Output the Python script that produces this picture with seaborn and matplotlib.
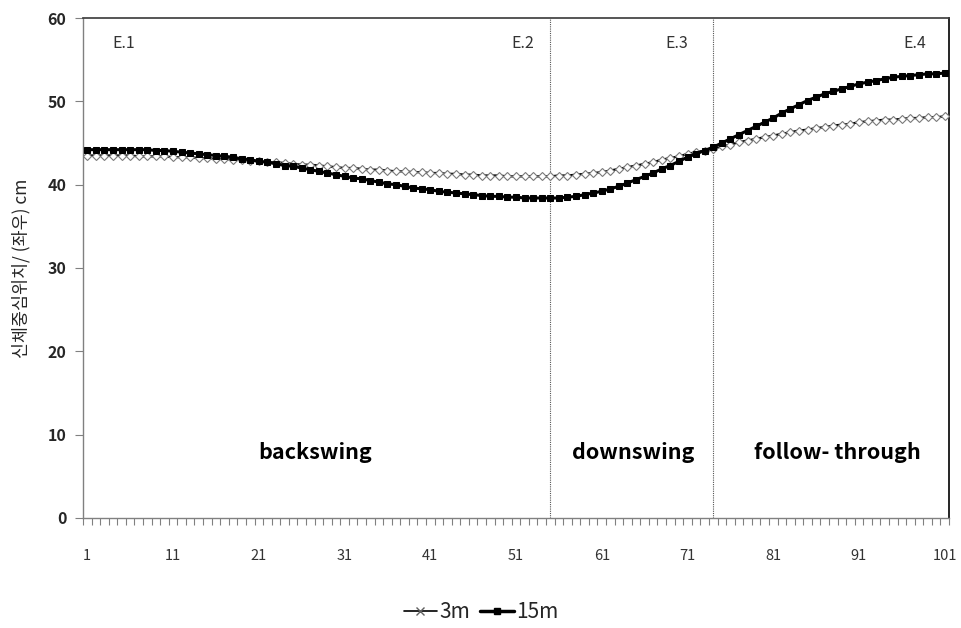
import numpy as np
import pandas as pd
import matplotlib
matplotlib.use("Agg")
import matplotlib.pyplot as plt
from matplotlib.lines import Line2D
import seaborn as sns

sns.set_theme(style="white")
plt.rcParams['font.family'] = ['Noto Sans CJK KR', 'DejaVu Sans']

frames = list(range(1, 102))

cog_3m = [
    43.5, 43.5, 43.5, 43.5, 43.5, 43.5, 43.4, 43.4, 43.4, 43.4,
    43.3, 43.3, 43.3, 43.2, 43.2, 43.1, 43.1, 43.0, 43.0, 42.9,
    42.8, 42.7, 42.7, 42.6, 42.5, 42.4, 42.4, 42.3, 42.2, 42.1,
    42.0, 42.0, 41.9, 41.8, 41.8, 41.7, 41.6, 41.6, 41.5, 41.5,
    41.4, 41.4, 41.3, 41.3, 41.2, 41.2, 41.1, 41.1, 41.1, 41.0,
    41.0, 41.0, 41.0, 41.0, 41.0, 41.1, 41.1, 41.2, 41.3, 41.4,
    41.5, 41.7, 41.9, 42.1, 42.3, 42.5, 42.7, 43.0, 43.2, 43.4,
    43.7, 43.9, 44.1, 44.3, 44.6, 44.8, 45.1, 45.3, 45.5, 45.7,
    45.9, 46.1, 46.3, 46.5, 46.6, 46.8, 46.9, 47.1, 47.2, 47.3,
    47.5, 47.6, 47.7, 47.8, 47.8, 47.9, 48.0, 48.0, 48.1, 48.1,
    48.2,
]

cog_15m = [
    44.2, 44.2, 44.2, 44.2, 44.2, 44.2, 44.2, 44.2, 44.1, 44.1,
    44.0, 43.9, 43.8, 43.7, 43.6, 43.5, 43.4, 43.3, 43.1, 43.0,
    42.8, 42.7, 42.5, 42.3, 42.2, 42.0, 41.8, 41.6, 41.4, 41.2,
    41.0, 40.8, 40.7, 40.5, 40.3, 40.1, 40.0, 39.8, 39.6, 39.5,
    39.4, 39.2, 39.1, 39.0, 38.9, 38.8, 38.7, 38.6, 38.6, 38.5,
    38.5, 38.4, 38.4, 38.4, 38.4, 38.4, 38.5, 38.6, 38.8, 39.0,
    39.2, 39.5, 39.8, 40.2, 40.6, 41.0, 41.4, 41.9, 42.3, 42.8,
    43.3, 43.7, 44.1, 44.5, 45.0, 45.5, 46.0, 46.5, 47.0, 47.5,
    48.0, 48.6, 49.1, 49.6, 50.1, 50.5, 50.9, 51.2, 51.5, 51.8,
    52.1, 52.3, 52.5, 52.7, 52.9, 53.0, 53.1, 53.2, 53.3, 53.3,
    53.4,
]

event_x = [55, 74]
event_labels = ["E.1", "E.2", "E.3", "E.4"]
event_label_x = [5.2, 51.8, 69.8, 97.5]
phase_labels = ["backswing", "downswing", "follow- through"]
phase_x = [27.6, 64.7, 88.5]
xtick_vals = list(range(1, 102, 10))

df = pd.DataFrame({"frame": frames, "3m": cog_3m, "15m": cog_15m})

fig = plt.figure(figsize=(9.62, 6.28), dpi=100)
ax = fig.add_axes([0.0863, 0.1752, 0.9002, 0.7961])

sns.lineplot(data=df, x="frame", y="3m", ax=ax, color="black", lw=1.6,
             marker="D", markersize=4.5, markerfacecolor="white",
             markeredgecolor="#7a7a7a", markeredgewidth=0.8, zorder=3)
sns.lineplot(data=df, x="frame", y="15m", ax=ax, color="black", lw=2.2,
             marker="s", markersize=4, markerfacecolor="black",
             markeredgecolor="black", zorder=4)

for xv in event_x:
    ax.axvline(xv, color="#555555", lw=0.8, ls=(0, (1, 1)), zorder=1)

for lab, xv in zip(event_labels, event_label_x):
    ax.text(xv, 57, lab, ha="center", va="center", fontsize=11.5, color="#333333")

for lab, xv in zip(phase_labels, phase_x):
    ax.text(xv, 7.9, lab, ha="center", va="center", fontsize=15.5,
            fontweight="bold", color="black")

ax.set_xlim(0.5, 101.5)
ax.set_ylim(0, 60)
ax.set_xticks(xtick_vals)
ax.set_xticklabels([str(v) for v in xtick_vals], fontsize=10.5, color="#333333")
ax.set_xticks(np.arange(0.5, 102, 1), minor=True)
ax.tick_params(axis="x", which="major", length=0, pad=22)
ax.tick_params(axis="x", which="minor", length=5, width=0.8, color="#808080",
               direction="out", bottom=True)
ax.set_yticks(range(0, 61, 10))
ax.tick_params(axis="y", length=6, width=0.8, color="#808080", direction="out",
               left=True, labelsize=11.5, pad=6)
for t in ax.get_yticklabels():
    t.set_fontweight("bold")

ax.set_xlabel("")
ax.set_ylabel("신체중심위치/ (좌우) cm", fontsize=12.5, labelpad=12)

for side in ["left", "bottom"]:
    ax.spines[side].set_color("#808080")
    ax.spines[side].set_linewidth(1)
ax.spines["top"].set_color("#404040")
ax.spines["right"].set_color("black")
ax.spines["right"].set_linewidth(1.2)

handles = [
    Line2D([], [], color="black", lw=1.2, marker="x", markersize=6,
           markeredgecolor="#606060"),
    Line2D([], [], color="black", lw=2.5, marker="s", markersize=4),
]
fig.legend(handles, ["3m", "15m"], loc="center", bbox_to_anchor=(0.5, 0.025),
           ncol=2, frameon=False, fontsize=15, handlelength=1.6,
           handletextpad=0.1, columnspacing=0.5)

fig.savefig("out.png", dpi=100)
